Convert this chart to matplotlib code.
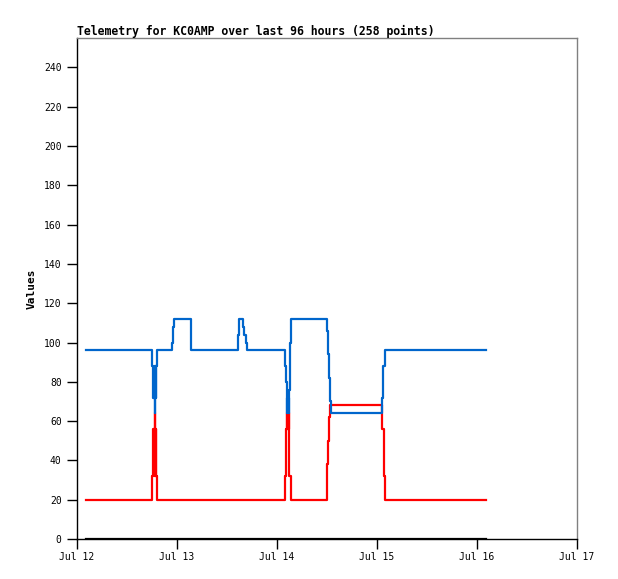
import matplotlib
matplotlib.use('Agg')
import matplotlib.pyplot as plt
import matplotlib.dates as mdates
import pandas as pd

# 起始时间（Jul 12 00:00）
base_time = pd.Timestamp('2023-07-12 00:00')

# 蓝色序列：相对起点的小时数 / 数值（只记录变化点）
blue_hours = [2.2, 18.07, 18.3, 18.4, 18.5, 18.6, 18.65, 18.72, 18.8, 18.9, 19.0, 19.13,
              22.7, 22.97, 23.28, 27.29,
              38.7, 38.95, 39.9, 40.15, 40.56, 40.8,
              49.92, 50.2, 50.3, 50.4, 50.5, 50.6, 50.7, 50.8, 50.95, 51.1, 51.3,
              60.0, 60.31, 60.55, 60.79, 60.96,
              73.27, 73.51, 73.85, 98.1]
blue_values = [96, 88, 72, 88, 72, 88, 64, 72, 88, 72, 88, 96,
               100, 108, 112, 96,
               104, 112, 108, 104, 100, 96,
               88, 80, 72, 64, 72, 64, 72, 64, 76, 100, 112,
               106, 94, 82, 70, 64,
               72, 88, 96, 96]

# 红色序列
red_hours = [2.2, 18.07, 18.3, 18.4, 18.5, 18.6, 18.65, 18.72, 18.8, 18.9, 19.0, 19.13,
             49.92, 50.2, 50.4, 50.5, 50.6, 50.7, 50.8, 50.9, 50.98, 51.3,
             60.07, 60.31, 60.55, 60.79,
             73.27, 73.68, 73.99, 98.1]
red_values = [20, 32, 56, 32, 56, 32, 64, 56, 32, 56, 32, 20,
              32, 56, 64, 56, 64, 56, 64, 56, 32, 20,
              38, 50, 62, 68,
              56, 32, 20, 20]

# 黑色序列（一直为 0）
black_hours = [2.2, 98.1]
black_values = [0, 0]

y_ticks = list(range(0, 241, 20))
x_tick_days = ['2023-07-12', '2023-07-13', '2023-07-14', '2023-07-15', '2023-07-16', '2023-07-17']

title_text = 'Telemetry for KC0AMP over last 96 hours (258 points)'
y_label = 'Values'


def to_time(hours):
    return [base_time + pd.Timedelta(hours=h) for h in hours]


plt.rcParams['font.family'] = ['DejaVu Sans Mono']

fig = plt.figure(figsize=(6.18, 5.79), dpi=100)
ax = fig.add_axes([77 / 618, 1 - 539 / 579, 500 / 618, 501 / 579])

ax.step(to_time(black_hours), black_values, where='post', color='black', lw=1.6, zorder=3)
ax.step(to_time(red_hours), red_values, where='post', color='#ff0000', lw=1.6, zorder=3)
ax.step(to_time(blue_hours), blue_values, where='post', color='#0066cc', lw=1.6, zorder=4)

ax.set_xlim(pd.Timestamp(x_tick_days[0]), pd.Timestamp(x_tick_days[-1]))
ax.set_ylim(0, 255)
ax.set_yticks(y_ticks)
ax.set_xticks([pd.Timestamp(d) for d in x_tick_days])
ax.xaxis.set_major_formatter(mdates.DateFormatter('%b %d'))

ax.tick_params(direction='out', length=7, width=1, labelsize=7, pad=4, colors='black')
ax.tick_params(axis='x', pad=2)

for side in ['left', 'bottom']:
    ax.spines[side].set_color('black')
    ax.spines[side].set_linewidth(1)
for side in ['top', 'right']:
    ax.spines[side].set_color('#808080')
    ax.spines[side].set_linewidth(1)

ax.set_ylabel(y_label, fontsize=8, fontweight='bold', labelpad=5)
ax.set_title(title_text, loc='left', fontsize=8.3, fontweight='bold', pad=2)

fig.savefig('out.png', dpi=100)
